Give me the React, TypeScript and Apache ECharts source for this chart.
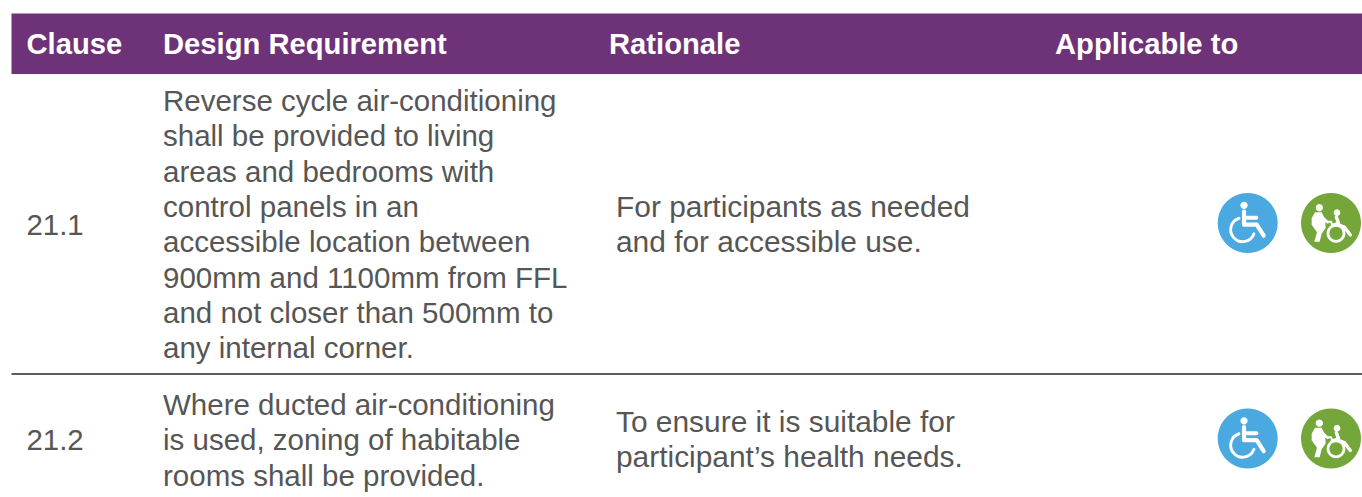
import React, { useEffect, useRef } from "react";
import * as echarts from "echarts";

const headers = ["Clause", "Design Requirement", "Rationale", "Applicable to"];
const clauses = ["21.1", "21.2"];
const requirements = [
  [
    "Reverse cycle air-conditioning",
    "shall be provided to living",
    "areas and bedrooms with",
    "control panels in an",
    "accessible location between",
    "900mm and 1100mm from FFL",
    "and not closer than 500mm to",
    "any internal corner.",
  ],
  ["Where ducted air-conditioning", "is used, zoning of habitable", "rooms shall be provided."],
];
const rationales = [
  ["For participants as needed", "and for accessible use."],
  ["To ensure it is suitable for", "participant\u2019s health needs."],
];

const FONT = '"Liberation Sans", Arial, sans-serif';
const HEAD_X = [26.5, 163, 609, 1055];
const REQ_Y = [100.5, 404.5];
const RAT_Y = [206.5, 421];
const CLAUSE_Y = [224, 439];
const ICON_Y = [223, 438.5];
const BLUE_X = 1247.7;
const GREEN_X = 1331;
const LINE_H = 35.3;
const TEXT = "#565656";

const stroke = (w: number) => ({ stroke: "#fff", lineWidth: w, fill: "none", lineCap: "round" as const, lineJoin: "round" as const });
const pts = (a: number[][]) => a.map(([x, y]) => [x / 3, y / 3]);
const line = (a: number[][], w: number) => ({ type: "polyline", shape: { points: pts(a) }, style: stroke(w) });
const dot = (x: number, y: number, r: number) => ({ type: "circle", shape: { cx: x / 3, cy: y / 3, r: r / 3 }, style: { fill: "#fff" } });
const arc = (x: number, y: number, r: number, a0: number, a1: number, w: number) => ({
  type: "arc",
  shape: { cx: x / 3, cy: y / 3, r: r / 3, startAngle: a0, endAngle: a1, clockwise: true },
  style: stroke(w),
});

function blueIcon(cx: number, cy: number) {
  return {
    type: "group",
    x: cx,
    y: cy,
    silent: true,
    children: [
      { type: "circle", shape: { cx: 0, cy: 0, r: 30 }, style: { fill: "#49a9e0" } },
      dot(-11, -53, 11),
      line([[-11, -34], [-11, 5], [27, 5], [48, 38]], 4.2),
      line([[-9, -16], [26, -16]], 4),
      arc(-15, 20, 36, 0.35, 4.4, 2.9),
    ],
  };
}

function greenIcon(cx: number, cy: number) {
  return {
    type: "group",
    x: cx,
    y: cy,
    silent: true,
    children: [
      { type: "circle", shape: { cx: 0, cy: 0, r: 30 }, style: { fill: "#74a63a" } },
      dot(-35, -46, 11),
      { type: "polygon", shape: { points: pts([[-48, -32], [-28, -32], [-18, -12], [-16, 15], [-28, 32], [-34, 56], [-50, 56], [-42, 28], [-58, 5], [-58, -14]]) }, style: { fill: "#fff" } },
      line([[-22, -14], [-10, -2]], 2.4),
      line([[-14, -4], [0, -4], [4, 6]], 2),
      dot(18, -31, 10),
      line([[16, -18], [24, 6], [40, 12], [58, 36]], 3.4),
      line([[2, 6], [24, -2]], 2),
      arc(15, 31, 24, 0, Math.PI * 2, 2.8),
    ],
  };
}

const textEl = (x: number, y: number, text: string, size: number, fill: string, weight: string | number = 400) => ({
  type: "text",
  x,
  y,
  silent: true,
  style: { text, fill, fontFamily: FONT, fontSize: size, fontWeight: weight, textAlign: "left", textVerticalAlign: "middle" },
});

export default function App() {
  const ref = useRef<HTMLDivElement>(null);
  useEffect(() => {
    const chart = echarts.init(ref.current!, undefined, { renderer: "svg" });
    const elements: any[] = [
      { type: "rect", shape: { x: 11.5, y: 13.5, width: 1350.5, height: 60.5 }, style: { fill: "#6d3278" }, silent: true },
      { type: "line", shape: { x1: 11.5, y1: 374, x2: 1362, y2: 374 }, style: { stroke: "#262626", lineWidth: 1.5 }, silent: true },
    ];
    headers.forEach((h, i) => elements.push(textEl(HEAD_X[i], 44, h, 29.2, "#ffffff", 700)));
    clauses.forEach((c, i) => {
      elements.push(textEl(26.5, CLAUSE_Y[i], c, 29.4, TEXT));
      requirements[i].forEach((t, j) => elements.push(textEl(163, REQ_Y[i] + j * LINE_H, t, 29.5, TEXT)));
      rationales[i].forEach((t, j) => elements.push(textEl(616, RAT_Y[i] + j * LINE_H, t, 29.9, TEXT)));
      elements.push(blueIcon(BLUE_X, ICON_Y[i]));
      elements.push(greenIcon(GREEN_X, ICON_Y[i]));
    });
    chart.setOption({ animation: false, backgroundColor: "#ffffff", graphic: { elements } });
    return () => chart.dispose();
  }, []);
  return <div ref={ref} style={{ position: "absolute", left: 0, top: 0, width: 1362, height: 497 }} />;
}
